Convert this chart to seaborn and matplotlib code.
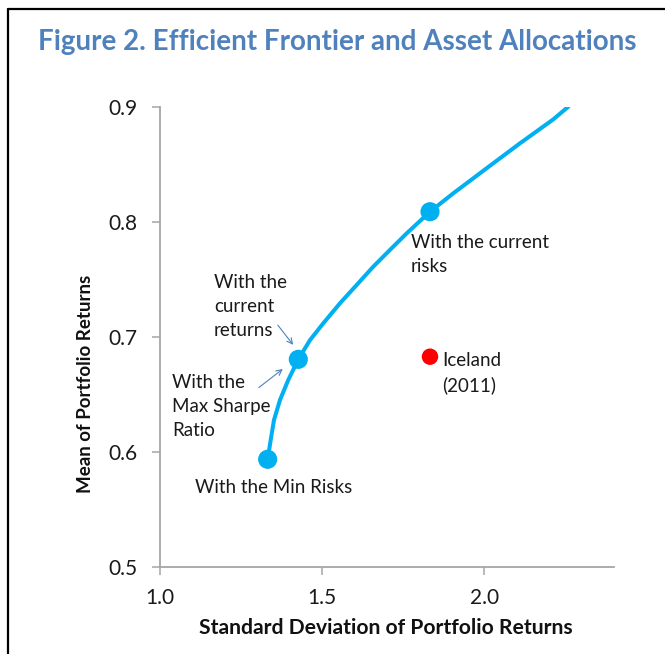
import numpy as np
import matplotlib.pyplot as plt
import pandas as pd
import seaborn as sns
from matplotlib.lines import Line2D

# efficient frontier
frontier_std = [1.332, 1.3413, 1.3515, 1.370, 1.3956, 1.4265, 1.4625, 1.5035, 1.555, 1.6065,
                1.6577, 1.709, 1.7607, 1.8326, 1.9045, 2.007, 2.110, 2.2128, 2.259]
frontier_mean = [0.5938, 0.6105, 0.6279, 0.6453, 0.6627, 0.6806, 0.6973, 0.7119, 0.7293, 0.7452,
                 0.7611, 0.7756, 0.790, 0.8088, 0.8248, 0.8465, 0.8682, 0.889, 0.900]

# highlighted allocations: min risk, max sharpe, current risks
alloc_names = ["Min Risks", "Max Sharpe", "Current risks"]
alloc_std = [1.332, 1.4265, 1.8326]
alloc_mean = [0.5938, 0.6806, 0.8088]

iceland_std = [1.8326]
iceland_mean = [0.6829]

x_ticks = [1.0, 1.5, 2.0]
y_ticks = [0.5, 0.6, 0.7, 0.8, 0.9]

sns.set_style('ticks')
plt.rcParams['font.family'] = ['Lato', 'DejaVu Sans']

fig = plt.figure(figsize=(6.65, 6.54), dpi=100)
ax = fig.add_axes([160 / 665, 1 - 567.3 / 654, 454 / 665, 460.6 / 654])

blue = '#00B0F0'
df_front = pd.DataFrame({'std': frontier_std, 'mean': frontier_mean})
sns.lineplot(data=df_front, x='std', y='mean', sort=False, color=blue, lw=2.9, ax=ax)
sns.scatterplot(x=alloc_std, y=alloc_mean, s=190, color=blue, edgecolor='none', ax=ax, zorder=3)
sns.scatterplot(x=iceland_std, y=iceland_mean, s=140, color='#FF0000', edgecolor='none', ax=ax, zorder=3)

ax.set_xlim(1.0, 2.4)
ax.set_ylim(0.5, 0.9)
ax.set_xticks(x_ticks)
ax.set_yticks(y_ticks)
ax.set_xticklabels([f"{t:.1f}" for t in x_ticks])
ax.set_yticklabels([f"{t:.1f}" for t in y_ticks])
ax.tick_params(axis='both', labelsize=15, length=6, width=1.1, color='#A6A6A6', labelcolor='#1a1a1a')
ax.tick_params(axis='y', pad=10)
ax.tick_params(axis='x', pad=9)
for s in ['top', 'right']:
    ax.spines[s].set_visible(False)
for s in ['left', 'bottom']:
    ax.spines[s].set_color('#A6A6A6')
    ax.spines[s].set_linewidth(1.3)

ax.set_xlabel('Standard Deviation of Portfolio Returns', fontsize=15.2, fontweight='bold', color='#111111')
ax.set_ylabel('Mean of Portfolio Returns', fontsize=13.5, fontweight='bold', color='#111111')
ax.xaxis.set_label_coords(0.498, -0.132)
ax.xaxis.label.set_va('center')
ax.yaxis.set_label_coords(-0.165, 0.398)
ax.yaxis.label.set_va('center')

txt = dict(fontsize=13.5, color='#1a1a1a', va='top', ha='left', linespacing=1.5)
ax.text(1.1665, 0.7547, 'With the\ncurrent\nreturns', **txt)
ax.text(1.037, 0.668, 'With the\nMax Sharpe\nRatio', **txt)
ax.text(1.108, 0.5767, 'With the Min Risks', **txt)
ax.text(1.774, 0.7895, 'With the current\nrisks', **txt)
ax.text(1.8696, 0.687, 'Iceland\n(2011)', **txt)

arrow = dict(arrowstyle='->', color='#4F81BD', lw=0.8)
ax.annotate('', xy=(1.416, 0.6913), xytext=(1.358, 0.7122), arrowprops=arrow)
ax.annotate('', xy=(1.3855, 0.6737), xytext=(1.298, 0.6546), arrowprops=arrow)

fig.text(38 / 665, 1 - 42 / 654, 'Figure 2. Efficient Frontier and Asset Allocations',
         fontsize=20, fontweight='bold', color='#4F81BD', ha='left', va='center')

# frame around the figure (only left and top visible in the crop)
fig.add_artist(Line2D([8 / 665, 8 / 665], [0, 1 - 8.5 / 654], color='black', lw=1.6, transform=fig.transFigure))
fig.add_artist(Line2D([8 / 665, 1], [1 - 8.5 / 654, 1 - 8.5 / 654], color='black', lw=1.6, transform=fig.transFigure))

fig.savefig('out.png', dpi=100)
